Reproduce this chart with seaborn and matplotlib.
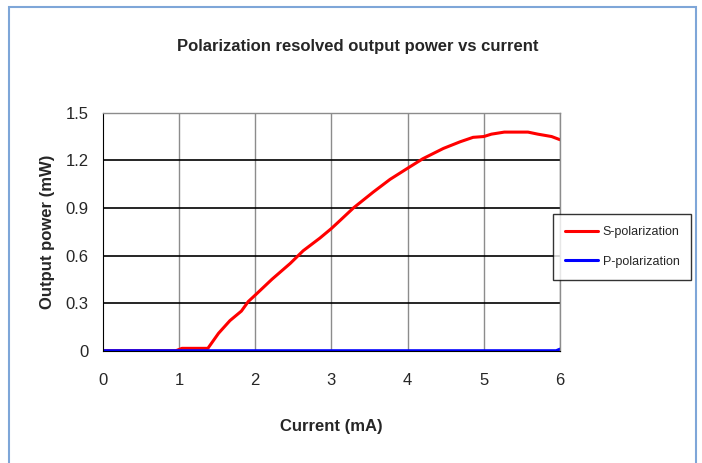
import pandas as pd
import matplotlib
matplotlib.use('Agg')
import matplotlib.pyplot as plt
import seaborn as sns

# S-polarization
s_current = [0.0, 0.5, 0.96, 1.04, 1.38, 1.52, 1.67, 1.82, 1.91, 2.0, 2.22, 2.46, 2.63,
             2.85, 3.0, 3.09, 3.29, 3.55, 3.77, 4.0, 4.2, 4.47, 4.69, 4.86, 5.0,
             5.1, 5.27, 5.58, 5.71, 5.89, 6.0]
s_power = [0.0, 0.0, 0.0, 0.015, 0.015, 0.11, 0.19, 0.25, 0.31, 0.35, 0.45, 0.55, 0.63,
           0.71, 0.77, 0.81, 0.90, 1.00, 1.08, 1.15, 1.21, 1.275, 1.317, 1.345, 1.35,
           1.365, 1.378, 1.378, 1.365, 1.35, 1.33]

# P-polarization
p_current = [0.0, 1.0, 2.0, 3.0, 4.0, 5.0, 5.95, 6.0]
p_power = [0.0, 0.0, 0.0, 0.0, 0.0, 0.0, 0.0, 0.01]

series_names = ['S-polarization', 'P-polarization']
series_colors = ['#ff0000', '#0000ff']

df = pd.concat([
    pd.DataFrame({'Current': s_current, 'Power': s_power, 'Series': series_names[0]}),
    pd.DataFrame({'Current': p_current, 'Power': p_power, 'Series': series_names[1]}),
])

sns.set_style('white')
plt.rcParams['font.family'] = ['Liberation Sans', 'DejaVu Sans']

fig = plt.figure(figsize=(7.02, 4.63), dpi=100)
ax = fig.add_axes([0.1463, 0.2425, 0.6514, 0.514])

sns.lineplot(data=df, x='Current', y='Power', hue='Series', hue_order=series_names,
             palette=series_colors, estimator=None, sort=False, linewidth=2.2, ax=ax)

ax.set_xlim(0, 6)
ax.set_ylim(0, 1.5)
ax.set_xticks(range(7))
ax.set_yticks([0, 0.3, 0.6, 0.9, 1.2, 1.5])
ax.set_yticklabels(['0', '0.3', '0.6', '0.9', '1.2', '1.5'])

for x in range(1, 7):
    ax.axvline(x, color='#8c8c8c', lw=1, zorder=0.5)
for y in [0.3, 0.6, 0.9, 1.2]:
    ax.axhline(y, color='black', lw=1.2, zorder=0.5)

for side in ['top', 'right']:
    ax.spines[side].set_color('#8c8c8c')
    ax.spines[side].set_linewidth(1)
ax.spines['left'].set_color('black')
ax.spines['bottom'].set_color('black')
ax.tick_params(axis='both', direction='out', length=4, width=1, color='black',
               labelsize=12, pad=6)
ax.tick_params(axis='x', pad=12)

ax.set_xlabel('Current (mA)', fontsize=12, fontweight='bold', labelpad=22)
ax.set_ylabel('Output power (mW)', fontsize=12, fontweight='bold', labelpad=8)
fig.text(0.51, 0.900, 'Polarization resolved output power vs current',
         ha='center', va='center', fontsize=12, fontweight='bold')

leg = ax.legend(loc='center left', bbox_to_anchor=(0.985, 0.436), frameon=True,
                fancybox=False, edgecolor='black', fontsize=9, handlelength=2.6,
                borderpad=0.95, labelspacing=1.4, handletextpad=0.4,
                borderaxespad=0)
leg.get_frame().set_linewidth(1)
leg.set_title(None)

border = plt.Rectangle((9 / 702, -0.1), 687 / 702, (463 - 7) / 463 + 0.1,
                       transform=fig.transFigure, fill=False,
                       edgecolor='#7ea6d8', linewidth=1.5, clip_on=False)
fig.patches.append(border)

fig.savefig('out.png', dpi=100)
